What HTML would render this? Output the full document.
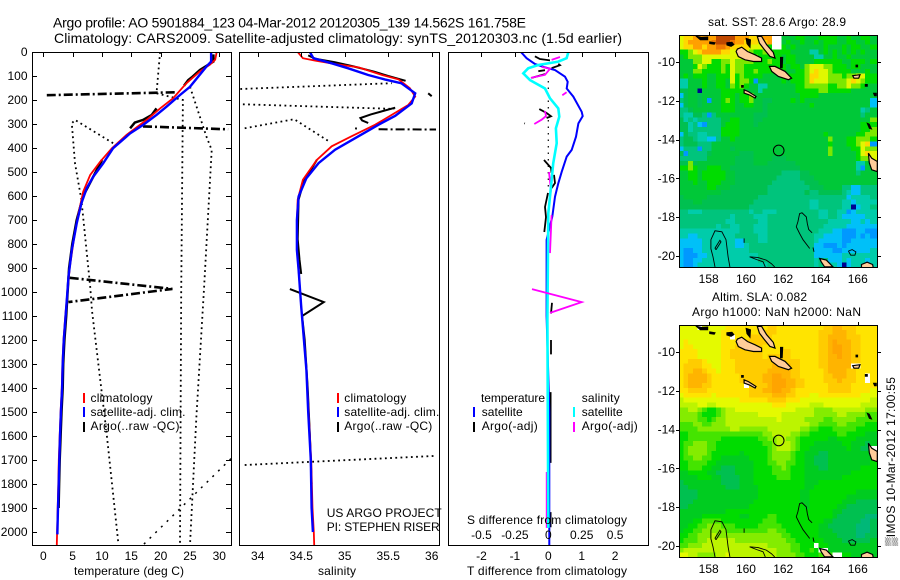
<!DOCTYPE html>
<html>
<head>
<meta charset="utf-8">
<title>Argo profile</title>
<style>
html,body{margin:0;padding:0;background:#fff;}
#chart{display:block;position:absolute;left:0;top:0;}
text{font-family:"Liberation Sans",sans-serif;font-size:12px;fill:#000;}
.t14{font-size:14px;}
.t13{font-size:13px;}
</style>
</head>
<body>
<svg id="chart" width="900" height="580" viewBox="0 0 900 580" xmlns="http://www.w3.org/2000/svg">
  <rect x="0" y="0" width="900" height="580" fill="#fff"/>
  <defs>
    <clipPath id="clip-temp"><rect x="32" y="52" width="199" height="493"/></clipPath>
    <clipPath id="clip-sal"><rect x="239" y="52" width="200" height="493"/></clipPath>
    <clipPath id="clip-diff"><rect x="448" y="52" width="200" height="493"/></clipPath>
    <clipPath id="clip-map1"><rect x="679" y="35" width="198" height="232"/></clipPath>
    <clipPath id="clip-map2"><rect x="679" y="325" width="198" height="232"/></clipPath>
  </defs>

  <text class="t14" x="53" y="27.5" textLength="473">Argo profile: AO 5901884_123 04-Mar-2012 20120305_139 14.562S 161.758E</text>
  <text class="t14" x="54" y="43" textLength="568">Climatology: CARS2009. Satellite-adjusted climatology: synTS_20120303.nc (1.5d earlier)</text>

  <g id="g-temp"></g>
  <g id="g-sal"></g>
  <g id="g-diff"></g>
  <g id="g-map1"></g>
  <g id="g-map2"></g>

  <text x="74" y="575" textLength="110">temperature (deg C)</text>
  <text x="318" y="575" textLength="38">salinity</text>
  <text x="467" y="575" textLength="160">T difference from climatology</text>
  <text x="467" y="524" textLength="160">S difference from climatology</text>

  <g>
    <rect x="83" y="393" width="2" height="10" fill="#f00"/>
    <rect x="83" y="407" width="2" height="10" fill="#00f"/>
    <rect x="83" y="422" width="2" height="10" fill="#000"/>
    <text x="90.5" y="402" textLength="62">climatology</text>
    <text x="90.5" y="416" textLength="95">satellite-adj. clim.</text>
    <text x="90.5" y="430" textLength="89">Argo(..raw -QC)</text>
  </g>
  <g>
    <rect x="337" y="393" width="2" height="10" fill="#f00"/>
    <rect x="337" y="407" width="2" height="10" fill="#00f"/>
    <rect x="337" y="422" width="2" height="10" fill="#000"/>
    <text x="344.3" y="402" textLength="62">climatology</text>
    <text x="344.3" y="416" textLength="95">satellite-adj. clim.</text>
    <text x="344.3" y="430" textLength="88">Argo(..raw -QC)</text>
  </g>
  <text x="326.7" y="517" textLength="115">US ARGO PROJECT</text>
  <text x="326.7" y="531" textLength="113">PI: STEPHEN RISER</text>
  <g>
    <text x="481" y="402" textLength="64">temperature</text>
    <text x="481.7" y="416" textLength="41">satellite</text>
    <text x="481.7" y="430" textLength="56">Argo(-adj)</text>
    <rect x="473" y="407" width="2" height="10" fill="#00f"/>
    <rect x="473" y="422" width="2" height="10" fill="#000"/>
    <text x="581.7" y="402" textLength="38">salinity</text>
    <text x="581.7" y="416" textLength="41">satellite</text>
    <text x="581.7" y="430" textLength="56">Argo(-adj)</text>
    <rect x="573" y="407" width="2" height="10" fill="#0ff"/>
    <rect x="573" y="422" width="2" height="10" fill="#f0f"/>
  </g>

  <text x="708" y="26" textLength="138">sat. SST: 28.6 Argo: 28.9</text>
  <text x="712" y="301" textLength="95">Altim. SLA: 0.082</text>
  <text x="692" y="316" textLength="169">Argo h1000: NaN h2000: NaN</text>
  <text transform="translate(895,546) rotate(-90)" x="0" y="0" textLength="169" style="font-family:'Liberation Sans','DejaVu Sans',sans-serif">▒IMOS 10-Mar-2012 17:00:55</text>
</svg>

<script>
/* ---------- temperature panel data ---------- */
const tempClimDepth = [0,32,53,81,130,193,235,283,345,401,457,512,582,672,783,900,1000,1100,1200,1300,1400,1500,1600,1700,1800,1900,2000,2054];
const tempClimValues = [29.55,29.3,28.4,26.7,24.4,22.1,19.9,17.6,14.2,11.7,9.7,8,6.8,6,5.2,4.5,4.1,3.75,3.45,3.25,3.15,2.95,2.8,2.65,2.55,2.45,2.35,2.3];
const tempSatDepth = [0,40,61,145,179,228,262,304,339,401,464,520,568,630,714,825,936,1000,1100,1200,1300,1400,1500,1600,1700,1800,1900,2000,2010];
const tempSatValues = [28.6,28.6,27.8,25,23.3,21,19.3,17,14.8,11.9,10.2,8.5,7.4,6.5,5.7,4.85,4.3,4.1,3.8,3.5,3.3,3.2,3,2.85,2.73,2.62,2.5,2.4,2.4];
const tempArgoDepth = [10,40,75,106,117,140,null,235,262,283,294,318,null,450,492,520,600,700,800,900,1000,1100,1200,1300,1400,1500,1600,1700,1800,1900];
const tempArgoValues = [29,29,26.7,25.3,24.7,24,null,19.3,18.5,17,15.6,14.8,null,10,9.1,8.5,6.8,5.7,4.95,4.4,4.15,3.9,3.6,3.4,3.3,3.1,2.95,2.8,2.7,2.6];
const tempSpikeDepth = [168,180,null,310,322,null,941,987,1042];
const tempSpikeValues = [22.4,0.6,null,17,31.5,null,4.5,22,4.3];
const tempBound1Depth = [0,172,200,1000,2054];
const tempBound1Values = [19.9,19.3,23.8,23.5,23.3];
const tempBound2Depth = [145,352,408,980,1519,2054];
const tempBound2Values = [25,27.8,28.7,27.4,26.1,25];
const tempBound3Depth = [380,283,297,464,616,978,1078,1592,2049];
const tempBound3Values = [11.9,5.4,4.85,5.4,6.5,8,8.3,10.8,12.8];
const tempBound4Depth = [1694,2054];
const tempBound4Values = [32,17];
const tempTicks = [0,5,10,15,20,25,30];
const tempTickLabels = ['0','5','10','15','20','25','30'];
const depthTicks = [0,100,200,300,400,500,600,700,800,900,1000,1100,1200,1300,1400,1500,1600,1700,1800,1900,2000];
const depthTickLabels = ['0','100','200','300','400','500','600','700','800','900','1000','1100','1200','1300','1400','1500','1600','1700','1800','1900','2000'];

/* ---------- salinity panel data ---------- */
const salClimDepth = [0,26,36,50,64,96,114,151,186,221,262,303,351,393,449,532,615,700,825,908,1061,1325,1500,1700,1900,2000,2054];
const salClimValues = [34.46,34.52,34.66,34.89,35.16,35.43,35.62,35.75,35.81,35.73,35.54,35.35,35.08,34.85,34.68,34.52,34.46,34.45,34.45,34.47,34.5,34.56,34.585,34.615,34.63,34.645,34.65];
const salSatDepth = [0,26,47,68,96,114,130,172,214,266,303,351,407,463,526,602,700,825,908,1061,1325,1500,1700,1900,2000];
const salSatValues = [34.6,34.64,34.85,35.04,35.27,35.46,35.65,35.81,35.77,35.58,35.39,35.16,34.89,34.7,34.56,34.47,34.45,34.45,34.47,34.5,34.56,34.58,34.61,34.62,34.635];
const salArgoDepth = [14,28,42,60,82,100,120,null,232,260,275,285,296,null,449,540,615,780,865,925,null,988,1042,1100,1200,1400,1600,1800];
const salArgoValues = [34.58,34.66,34.88,35.1,35.34,35.5,35.7,null,35.58,35.3,35.18,35.2,35.27,null,34.68,34.53,34.47,34.46,34.48,34.5,null,34.37,34.76,34.51,34.54,34.575,34.6,34.62];
const salSpikeDepth = [172,184,null,318,319,null,322,323];
const salSpikeValues = [35.96,36,null,35.12,35.14,null,35.39,36.05];
const salBound1Depth = [154,130];
const salBound1Values = [33.8,35.54];
const salBound2Depth = [218,237];
const salBound2Values = [33.83,35.57];
const salBound3Depth = [318,280,375];
const salBound3Values = [33.85,34.42,34.83];
const salBound4Depth = [1721,1683];
const salBound4Values = [33.85,36.04];
const salTicks = [34,34.5,35,35.5,36];
const salTickLabels = ['34','34.5','35','35.5','36'];

/* ---------- difference panel data ---------- */
const diffTSatDepth = [0,26,50,64,75,103,124,152,186,249,267,297,353,408,436,499,547,603,686,783,1100,1500,2054];
const diffTSatValues = [-0.82,-0.65,-0.4,-0.1,0.2,0.5,0.58,0.55,0.75,1,1.03,0.9,0.83,0.7,0.55,0.4,0.3,0.2,0.12,-0.05,-0.05,0.03,0.03];
const diffSSatDepth = [0,26,40,54,68,89,117,152,193,235,269,318,380,464,561,672,1116,1983];
const diffSSatValues = [0.15,0.137,0.075,-0.075,-0.15,-0.187,-0.137,-0.025,0.013,0.075,0.082,0.057,0.063,0.037,0.02,0,-0.007,0];
const diffSArgoDepth = [21,33,null,62,70,95,108,null,168,180,null,246,267,282,300,null,500,575,604,null,680,838,null,1750,1983];
const diffSArgoValues = [0.0875,0.025,null,-0.05,0.013,-0.025,-0.13,null,0.137,0.105,null,-0.025,-0.017,-0.05,-0.105,null,0.005,0.02,0.013,null,0.025,0.013,null,-0.012,-0.012];
const diffTArgoDepth = [18,29,35,null,49,55,67,null,80,76,null,108,92,null,238,254,268,275,null,297,298,null,450,483,504,null,512,546,567,null,587,646,688,750,null,1045,1090,null,1200,1260,null,1417,1712,null,1917,1980];
const diffTArgoValues = [-0.4,-0.25,0.05,null,0.3,0.35,0.1,null,-0.3,-0.1,null,-0.5,-0.1,null,-0.27,-0.05,0.08,-0.05,null,-0.72,-0.7,null,-0.13,0.08,0.1,null,0.17,0.2,0.1,null,-0.01,-0.1,-0.07,-0.12,null,0.11,0.08,null,0.08,0.08,null,0.07,0.07,null,0.07,0.07];
const diffZeroDepth = [121,562];
const diffZeroValues = [0,0];
const diffMagentaSpikeDepth = [988,1042,1087];
const diffMagentaSpikeValues = [-0.122,0.25,0.013];
const diffTTicks = [-2,-1,0,1,2];
const diffTTickLabels = ['-2','-1','0','1','2'];
const diffSTicks = [-0.5,-0.25,0,0.25,0.5];
const diffSTickLabels = ['-0.5','-0.25','0','0.25','0.5'];

/* ---------- map data: one character per 0.25 degree cell ---------- */
const sstRows = [
"9aabbbb bddddbb baaabbw w666776 6677776 6766776",
"9abbbbb cdddcbb aaa9abw w676676 6767776 6776676",
"9aabbab bccbaaa a999a7w w767666 6667666 7677667",
"7789abb bbaa999 9877877 7776666 3367676 7676766",
"6788899 9999999 7887777 7677666 6336676 6766666",
"6668899 7788988 8877787 7677666 6777777 6677767",
"6667987 7787988 7777777 7767768 9998877 7677666",
"6668877 7787988 7787777 7766778 9a99877 7766676",
"6767776 6777978 7777666 6777778 aa99888 7889977",
"3366676 6776978 8716666 6767778 a999888 89a9877",
"3366676 6776878 7663366 6666778 8888778 8988766",
"5566066 6677777 6663666 6666777 7788777 7766666",
"2566566 6677767 7866666 6666677 7766666 6666666",
"4566561 6678767 7866556 6667676 6666666 6666662",
"2566566 6677766 7766566 6666666 7666666 6666662",
"4456666 6677766 6666566 6666666 6666666 6666346",
"4335541 4666666 6655566 6666666 6666666 6666466",
"5343444 4466776 6655666 6666666 6666666 6666668",
"5534214 4467776 6656666 6666666 6666666 6666777",
"5534444 4477776 6666666 6666666 6666666 6666778",
"2544334 4477776 6666666 6666666 6667666 6667788",
"4554332 2466766 6666666 6666666 6666866 6778887",
"4555444 6666666 6666666 6666666 6666766 67789a1",
"2444144 6666566 6666666 6666666 6666866 6677988",
"5144445 6666665 5566666 6666666 6666866 66679a9",
"4444446 6666655 5566665 5566666 6666666 6667889",
"5585666 6666655 5566655 5555666 6666666 6663368",
"7787667 7766555 5555555 5555566 6666666 6663166",
"6677677 7776655 5555555 5444455 6666666 6664666",
"6677677 7776655 5555555 4444455 5666666 6666666",
"6667667 7766655 5555554 4444445 5566666 6666666",
"6666667 7666555 5555544 4444444 5556666 4422444",
"6666666 6655555 5555544 4444445 4455555 4322444",
"5666665 5555555 5554444 4444444 4444444 4233334",
"5556655 5555555 5544444 4444444 3344444 3323333",
"5555555 5555555 5444444 4444444 3344444 3302334",
"4433344 4444444 4344333 4444444 4433443 3123333",
"4444444 4444344 4433344 4444444 4433443 2222233",
"4444444 4443344 4443344 4444444 4444333 3322323",
"4444444 4344334 4433344 4444444 4443333 3222222",
"3333333 3333334 4433344 4444444 4433322 1112211",
"3322333 3333344 4443344 4444444 4332222 1112121",
"2222233 3333322 4443344 4444444 4322222 1122222",
"2222233 3333322 3444444 4444444 4221112 1222222",
"2112233 3333333 3444444 4444444 4222211 2222223",
"2111223 3333333 3334444 4444444 4222222 3333333",
"2112233 3333333 3334444 4444444 4344222 3233323",
"2112333 3333333 3333344 4444444 4343332 0233333"
];
const slaRows = [
"mmmmwmm mmmnnnn nnnnnoo nnnnnnn nnnoopp ooonnnn",
"mmmmmmm mmnnnnn nnnnooo nnnnnnn nnooopp poonnnn",
"mmmmmmm mmnnwnn nooooon nnnnnnn nnooppp pooonnn",
"mnmmmmm mmnnnnn ooooonn nnnnnnn nnoopqp ppoonnn",
"mnnmmmm mmnnnoo oooonnn nnnnnnn nnoopqq ppoonnn",
"nnnnmmm mmnnooo oooonnn noonnnn nnoopqq ppoonnn",
"nnnnmmm mmnnooo oooonoo ooonnnn nnooppq ppoonnn",
"nnooonm mmnnnoo ooooooo ooooonn nnooppp ppoonnn",
"noooonn mmnnnoo oooooop pppoonn nnooppp ppwwnnn",
"nooppon nmnnnoo ooooopp pppoonn nnnoppp poonnnn",
"noppppo nnnnnno ooooppq qppoonn nnnoopp poonnwn",
"noppppo nnnnnno ooooppq qqppoon nnnooop ooonnwn",
"nopppoo nnnnnnn woooopq qqppoon nnnnooo oonnnnn",
"nnoooon nnnnnnn noooppq qpponnn nnnnooo oonnnnm",
"mnnnnnn mnnnnnn nooooop ppoonnn mmnnnnn nnnnmmm",
"lmmmmmm mmmmmmn nnnnnoo oonnnmm mmmmmmm mmmmmml",
"llllmml lmmmmmm mmmmmmn nnmmmmm lllmmmm mmmmlll",
"kkllkji ijkllmm mmmmmmm mmmmlll lkkkkll lllllkk",
"kkkkjii ijkllll lllmmmm mllllll lkkkkkl lkkkkjj",
"kkkkjji jkkllll lllllll mlllllk kkkjjkk kkkjjjj",
"jjjkkjj kkkllll lllllll lllllll kkjjjjk kjjjjii",
"jjjjkkk kkkkllk kkkkkll lllllkk jjiiijj jjjiiii",
"iijjjjj jjjjjjj jjjjkkl lllkkjj iiiiiij jiiiihh",
"iijjjjj jjiiiii iiijjkk llkkjii iiiihhi iiihhhh",
"ijjkkkj jiiiiii iiiijjk lllkjii ihhhhhh iihhhgh",
"ijkkkkj jiiiiii iiiiijk lllkjii hhhhhhh hihhggw",
"ijkkkkj iiiiiih iiiiijk kkkjiih hhgghhh hhhhhhh",
"ijjkkjj iihhhhh hiiiijk kkkjiih hggghhh hhhhhhh",
"iijjjji ihhhhhh hhiiijj kkjjiih hggghhh hhhhhhi",
"iijjjii hhggghh hhiiiij jkjiiih hhgghhh hhhhiii",
"hhiiiih hgggghh hhiiiij jjjiiih hhhhhhh hhiiiii",
"hhhhiii hhggggh hhiiiii jjjiiih hhhhhhh iiiiiii",
"ghhhhhh hhggggh hhiiiii iiiiiih hhiiiii iiiiiii",
"gghhhhh hhhgggh hhhiiii iiiiiih hiiiiii iiiiiii",
"gggghhh hhhhhhh hhhiiii iiiiihh iiiiiii iiihhhh",
"gggghhh hhhhhhh hhhiiii iiiiihh iiiiiii ihhhhhh",
"ggghhhh hhhhhhh hhiiiii iiiiihh iiiiiii hhhgggg",
"gghhhhh hhhhhhh hiiiiii iiiiiih iiiiiih hgggggg",
"hhhhhhh hhhiiii iiiiiii iiiiiii iiiiihh ggggggg",
"hhhhhii iiiiiih hiiiijj iiiiiii iiiiihg gggggtt",
"hhhiijj jjiiiii iiiijjj iiiiiii iiihhgg ggggttg",
"hhiijjk kkjjjii iiijjjj jiiiiii iihhggg gggtttg",
"hiijjkk kkkjjjj jjjjjkk jjiiiii iihhhgg gggtttg",
"iijjkkk lkkkkkk kkkkkkk kjjiiii iihhhhg gggttgg",
"ijjjkkl lllllkk kkkkkkk kkjjiii iiihhhh ggggggh",
"jjkkkll lllllll lllllkk kkkjjii iwiihhh hhhhhhh",
"kllllll lllllll lllllll kkkjjii jiwwhhh hhhhhhh",
"mmllkkk kllmlll lllllll kkkkjji iijjjww iihhhhh"
];
const landShapes = [
  [[159.54,9.33],[159.77,9.23],[160.08,9.45],[160.49,9.62],[160.84,9.79],[160.84,9.97],[160.4,9.97],[159.95,9.88],[159.59,9.71],[159.47,9.45]],
  [[160.61,8.67],[160.84,8.67],[161.11,9.1],[161.47,9.5],[161.56,9.79],[161.29,9.71],[160.97,9.33],[160.72,9.02]],
  [[161.26,10.22],[161.56,10.22],[162.1,10.48],[162.45,10.83],[162.28,10.91],[161.74,10.74],[161.38,10.48]],
  [[159.9,11.43],[160.13,11.52],[160.54,11.77],[160.49,11.86],[160.18,11.69],[159.9,11.6]],
  [[166.57,14.7],[166.75,14.96],[167.05,15.13],[167.05,15.65],[166.75,15.56],[166.62,15.2]],
  [[165.73,10.7],[166.12,10.65],[166.05,10.83],[165.8,10.83]],
  [[163.96,20.14],[164.31,20.22],[164.67,20.57],[164.22,20.57],[164.04,20.31]],
  [[166.2,20.45],[166.5,20.33],[166.8,20.45],[166.85,20.7],[166.2,20.7]]
];
const blackShapes = [
  [[157.3,8.65],[157.6,8.72],[157.95,8.7],[157.95,8.85],[157.55,8.85]],
  [[158.05,8.95],[158.35,9],[158.3,9.08],[158.05,9.05]],
  [[158.97,9],[159.25,8.97],[159.36,9.1],[159.2,9.19],[158.97,9.12]],
  [[160,8.77],[160.25,8.85],[160.22,9.25],[160.05,9.05]],
  [[161.85,9.75],[161.98,9.75],[161.95,10.3],[161.85,10.3]],
  [[166.5,13.15],[166.62,13.2],[166.75,13.46],[166.62,13.42]],
  [[166.84,11.6],[167,11.6],[167,11.74],[166.9,11.74]],
  [[159.76,11.2],[159.86,11.2],[159.86,11.3],[159.76,11.3]],
  [[166.4,11.15],[166.52,11.15],[166.52,11.25],[166.4,11.25]],
  [[165.9,10.15],[166,10.15],[166,10.25],[165.9,10.25]]
];
const contourLines = [
  [[159.14,20.57],[159.04,20.05],[158.93,19.17],[158.71,18.76],[158.34,18.71],[158.12,19.17],[158.12,19.64],[158.23,20.05],[158.34,20.57]],
  [[158.39,19.69],[158.66,19.28],[158.6,19.2],[158.34,19.6],[158.39,19.69]],
  [[163.55,18.81],[163.37,18.64],[163.29,18.33],[163.24,17.99],[163.01,17.78],[162.88,17.82],[162.79,18.24],[162.7,18.5],[162.88,18.85],[163.06,19.17],[163.42,19.62]],
  [[163.6,19.57],[163.65,19.79]],
  [[165.5,19.75],[165.7,19.68],[165.9,19.8],[165.85,19.97],[165.62,19.97],[165.5,19.75]],
  [[160.2,20.05],[160.65,20.09],[161.09,20.22],[161.36,20.4],[161.54,20.57]],
  [[160.2,20.05],[160.56,20.19],[160.92,20.31],[161.04,20.57]],
  [[159.9,19.1],[159.9,19.33]]
];
const floatLon = 161.758;
const floatLat = 14.562;
const lonTicks = [158,160,162,164,166];
const lonTickLabels = ['158','160','162','164','166'];
const latTicks = [10,12,14,16,18,20];
const latTickLabels = ['-10','-12','-14','-16','-18','-20'];

/* ---------- colour keys for the map cells ---------- */
const sstColors = {'0':'#000090','1':'#0098ff','2':'#00c0f8','3':'#00ccaa','4':'#00c47c','5':'#00c050','6':'#00c838','7':'#00dc00','8':'#7ce800','9':'#e0f800','a':'#ffd800','b':'#ffa000','c':'#f07800','d':'#c04800','w':'#ffffff'};
const slaColors = {'t':'#00b878','g':'#00c050','h':'#00cc20','i':'#00dc00','j':'#44e400','k':'#84ec00','l':'#bcf400','m':'#e4fa00','n':'#ffe400','o':'#ffcc00','p':'#ffb400','q':'#ffa400','w':'#ffffff'};

/* ---------- axis functions ---------- */
const depthY = d => 52 + d * 0.24;
const tempX = t => 43.3 + t * 5.867;
const salX = s => 257.7 + (s - 34) * 87;
const diffTX = t => 548.3 + t * 33.4;
const diffSX = s => 548.3 + s * 133.7;
const lonX = lon => 708.7 + (lon - 158) * 18.63;
const latY = (lat, top) => top + (lat - 8.6) * 19.37;

const NS = 'http://www.w3.org/2000/svg';
function make(tag, attrs, parent) {
  const node = document.createElementNS(NS, tag);
  for (const k in attrs) node.setAttribute(k, attrs[k]);
  parent.appendChild(node);
  return node;
}

function plotSeries(parent, depths, values, xFn, name, color, width, dash, clip) {
  let d = '';
  let pen = false;
  for (let i = 0; i < depths.length; i++) {
    if (depths[i] === null || values[i] === null) { pen = false; continue; }
    d += (pen ? 'L' : 'M') + xFn(values[i]).toFixed(1) + ' ' + depthY(depths[i]).toFixed(1);
    pen = true;
  }
  const el = make('path', {d: d, fill: 'none', stroke: color, 'stroke-width': width, 'clip-path': 'url(#' + clip + ')'}, parent);
  if (dash) el.setAttribute('stroke-dasharray', dash);
  
  
}

function drawFrame(parent, x, y, w, h, name) {
  const el = make('rect', {x: x + 0.5, y: y + 0.5, width: w, height: h, fill: 'none', stroke: '#000', 'stroke-width': 1, 'shape-rendering': 'crispEdges'}, parent);
  
  
}

/* positive len points into the plot, negative len points out of it */
function drawXTicks(parent, ticks, labels, xFn, top, len, labelY) {
  ticks.forEach((t, i) => {
    const px = Math.round(xFn(t)) + 0.5;
    if (len !== 0) {
      const a = make('line', {x1: px, x2: px, y1: top, y2: top + len, stroke: '#000', 'shape-rendering': 'crispEdges'}, parent);
      
      
    }
    const label = make('text', {x: xFn(t), y: labelY, 'text-anchor': 'middle'}, parent);
    label.textContent = labels[i];
    
    
  });
}

function drawYTicks(parent, ticks, labels, yFn, left, right, len, labelX) {
  ticks.forEach((t, i) => {
    const py = Math.round(yFn(t)) + 0.5;
    const a = make('line', {x1: left, x2: left + len, y1: py, y2: py, stroke: '#000', 'shape-rendering': 'crispEdges'}, parent);
    
    
    const b = make('line', {x1: right - len, x2: right, y1: py, y2: py, stroke: '#000', 'shape-rendering': 'crispEdges'}, parent);
    
    
    const label = make('text', {x: labelX, y: yFn(t) + 4, 'text-anchor': 'end'}, parent);
    label.textContent = labels[i];
    
    
  });
}

/* ---------- temperature panel ---------- */
const gT = document.getElementById('g-temp');
const DOT = '1.8 3.4';
const DASHDOT = '9 3 2 3';
plotSeries(gT, tempBound1Depth, tempBound1Values, tempX, 'temperature-bound-1', '#000', 1.8, DOT, 'clip-temp');
plotSeries(gT, tempBound2Depth, tempBound2Values, tempX, 'temperature-bound-2', '#000', 1.8, DOT, 'clip-temp');
plotSeries(gT, tempBound3Depth, tempBound3Values, tempX, 'temperature-bound-3', '#000', 1.8, DOT, 'clip-temp');
plotSeries(gT, tempBound4Depth, tempBound4Values, tempX, 'temperature-bound-4', '#000', 1.5, '2 6', 'clip-temp');
plotSeries(gT, tempSpikeDepth, tempSpikeValues, tempX, 'temperature-argo-spikes', '#000', 2.6, DASHDOT, 'clip-temp');
plotSeries(gT, tempArgoDepth, tempArgoValues, tempX, 'temperature-argo', '#000', 2.5, null, 'clip-temp');
plotSeries(gT, tempClimDepth, tempClimValues, tempX, 'temperature-climatology', '#f00', 1.8, null, 'clip-temp');
plotSeries(gT, tempSatDepth, tempSatValues, tempX, 'temperature-satellite', '#00f', 2.4, null, 'clip-temp');
drawFrame(gT, 32, 52, 199, 493, 'temperature-plot-frame');
drawXTicks(gT, tempTicks, tempTickLabels, tempX, 52, 5, 560);
drawYTicks(gT, depthTicks, depthTickLabels, depthY, 32, 231, 5, 27.5);

/* ---------- salinity panel ---------- */
const gS = document.getElementById('g-sal');
plotSeries(gS, salBound1Depth, salBound1Values, salX, 'salinity-bound-1', '#000', 1.8, DOT, 'clip-sal');
plotSeries(gS, salBound2Depth, salBound2Values, salX, 'salinity-bound-2', '#000', 1.8, DOT, 'clip-sal');
plotSeries(gS, salBound3Depth, salBound3Values, salX, 'salinity-bound-3', '#000', 1.8, DOT, 'clip-sal');
plotSeries(gS, salBound4Depth, salBound4Values, salX, 'salinity-bound-4', '#000', 1.8, DOT, 'clip-sal');
plotSeries(gS, salSpikeDepth, salSpikeValues, salX, 'salinity-argo-spikes', '#000', 2, DASHDOT, 'clip-sal');
plotSeries(gS, salArgoDepth, salArgoValues, salX, 'salinity-argo', '#000', 2, null, 'clip-sal');
plotSeries(gS, salClimDepth, salClimValues, salX, 'salinity-climatology', '#f00', 1.8, null, 'clip-sal');
plotSeries(gS, salSatDepth, salSatValues, salX, 'salinity-satellite', '#00f', 2.4, null, 'clip-sal');
drawFrame(gS, 239, 52, 200, 493, 'salinity-plot-frame');
drawXTicks(gS, salTicks, salTickLabels, salX, 52, 5, 560);

/* ---------- difference panel ---------- */
const gD = document.getElementById('g-diff');
plotSeries(gD, diffZeroDepth, diffZeroValues, diffTX, 'zero-reference-line', '#000', 1.2, '1.5 5', 'clip-diff');
plotSeries(gD, diffTArgoDepth, diffTArgoValues, diffTX, 't-difference-argo', '#000', 1.8, null, 'clip-diff');
plotSeries(gD, diffTSatDepth, diffTSatValues, diffTX, 't-difference-satellite', '#00f', 2, null, 'clip-diff');
plotSeries(gD, diffSArgoDepth, diffSArgoValues, diffSX, 's-difference-argo', '#f0f', 1.8, null, 'clip-diff');
plotSeries(gD, diffSSatDepth, diffSSatValues, diffSX, 's-difference-satellite', '#0ff', 2.6, null, 'clip-diff');
plotSeries(gD, diffMagentaSpikeDepth, diffMagentaSpikeValues, diffSX, 's-difference-argo-spike', '#f0f', 1.8, null, 'clip-diff');
drawFrame(gD, 448, 52, 200, 493, 'difference-plot-frame');
drawXTicks(gD, diffTTicks, diffTTickLabels, diffTX, 52, 5, 560);
drawXTicks(gD, diffSTicks, diffSTickLabels, diffSX, 52, 0, 539);

/* ---------- maps ---------- */
function outlinePoints(pts, top) {
  return pts.map(p => lonX(p[0]).toFixed(1) + ',' + latY(p[1], top).toFixed(1)).join(' ');
}
function drawMap(parent, rows, colors, top, clip, prefix) {
  const cellLayer = make('g', {'clip-path': 'url(#' + clip + ')', 'shape-rendering': 'crispEdges'}, parent);
  
  
  const lonMin = 156.4;
  const step = 0.25;
  rows.forEach((rawRow, r) => {
    const row = rawRow.replace(/ /g, '');
    for (let c = 0; c < row.length; c++) {
      const x0 = lonX(lonMin + c * step);
      const x1 = lonX(lonMin + (c + (c === row.length - 1 ? 2 : 1)) * step);
      const y0 = latY(8.6 + r * step, top);
      const y1 = latY(8.6 + (r + 1) * step, top);
      const cell = make('rect', {x: x0.toFixed(1), y: y0.toFixed(1), width: (x1 - x0 + 0.4).toFixed(1), height: (y1 - y0 + 0.4).toFixed(1), fill: colors[row[c]]}, cellLayer);
      
      
    }
  });
  const geo = make('g', {'clip-path': 'url(#' + clip + ')'}, parent);
  
  
  landShapes.forEach(shape => {
    const el = make('polygon', {points: outlinePoints(shape, top), fill: '#ffcc99', stroke: '#000', 'stroke-width': 1.2}, geo);
    
    
  });
  blackShapes.forEach(shape => {
    const el = make('polygon', {points: outlinePoints(shape, top), fill: '#000', stroke: '#000', 'stroke-width': 0.8}, geo);
    
    
  });
  contourLines.forEach(line => {
    const el = make('polyline', {points: outlinePoints(line, top), fill: 'none', stroke: '#000', 'stroke-width': 0.9}, geo);
    
    
  });
  const marker = make('circle', {cx: lonX(floatLon), cy: latY(floatLat, top), r: 5.3, fill: 'none', stroke: '#000', 'stroke-width': 1}, parent);
  
  
  drawFrame(parent, 679, top, 198, 232, prefix + '-frame');
  drawXTicks(parent, lonTicks, lonTickLabels, lonX, top, -3, top + 248);
  drawYTicks(parent, latTicks, latTickLabels, lat => latY(lat, top), 679, 878, -3, 675);
}
drawMap(document.getElementById('g-map1'), sstRows, sstColors, 35, 'clip-map1', 'sst-map');
drawMap(document.getElementById('g-map2'), slaRows, slaColors, 325, 'clip-map2', 'sla-map');
</script>
</body>
</html>
